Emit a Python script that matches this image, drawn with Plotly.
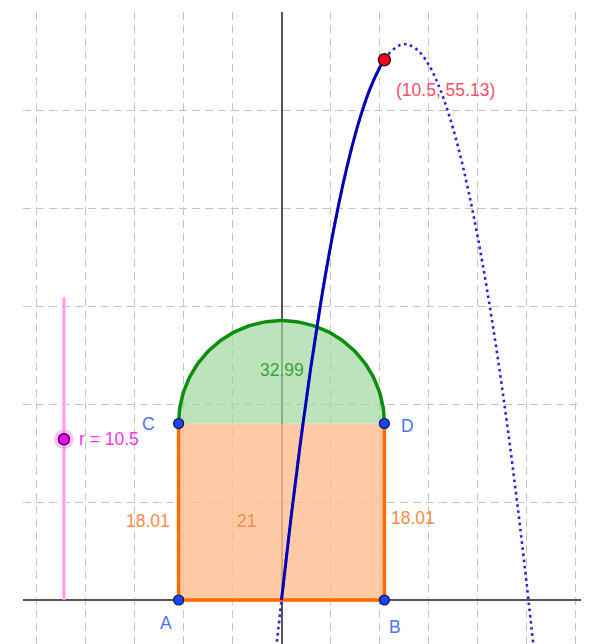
import numpy as np
import plotly.graph_objects as go

# ---- data ----
r_val = 10.5          # slider value (radius)
h_val = 18.01         # rectangle height
arc_len = 32.99       # semicircle arc length label
base_len = 21         # base label
P_label = "(10.5, 55.13)"
P = (10.5, 55.13)

# curve samples (x, y)
curve_x = [-0.6, 0, 1, 2, 3, 4, 5, 6, 7, 8, 9, 10, 10.5, 11, 12, 12.6, 13, 14, 15, 16, 17, 18,
           19, 20, 21, 22, 23, 24, 25, 26]
curve_y = [-5.53, 0, 8.64, 16.57, 23.79, 30.29, 36.07, 41.15, 45.50, 49.15, 52.08, 54.29, 55.13,
           55.79, 56.58, 56.71, 56.65, 56.01, 54.66, 52.59, 49.80, 46.31, 42.09, 37.17, 31.52,
           25.17, 18.11, 10.32, 1.83, -7.39]

# slider
slider_x = -22.2
slider_y0, slider_y1 = 0.0, 30.9
slider_knob_y = 16.4

A = (-r_val, 0.0)
B = (r_val, 0.0)
C = (-r_val, h_val)
D = (r_val, h_val)

fig = go.Figure()

# rectangle (orange fill)
fig.add_trace(go.Scatter(x=[A[0], B[0], D[0], C[0], A[0]], y=[A[1], B[1], D[1], C[1], A[1]],
                         mode="lines", fill="toself", fillcolor="rgba(255,190,145,0.8)",
                         line=dict(width=0), hoverinfo="skip", showlegend=False))
# semicircle (green)
t = np.linspace(0, np.pi, 120)
sx = r_val * np.cos(t)
sy = h_val + r_val * np.sin(t)
fig.add_trace(go.Scatter(x=list(sx) + [sx[0]], y=list(sy) + [sy[0]], mode="lines", fill="toself",
                         fillcolor="rgba(160,215,160,0.7)", line=dict(width=0),
                         hoverinfo="skip", showlegend=False))
fig.add_trace(go.Scatter(x=sx, y=sy, mode="lines", line=dict(color="#0a8f0a", width=3.5),
                         hoverinfo="skip", showlegend=False))
# orange sides
fig.add_trace(go.Scatter(x=[C[0], A[0], B[0], D[0]], y=[C[1], A[1], B[1], D[1]], mode="lines",
                         line=dict(color="#ff6a00", width=3.5), hoverinfo="skip", showlegend=False))

# dotted full curve
fig.add_trace(go.Scatter(x=curve_x, y=curve_y, mode="lines", line_shape="spline",
                         line=dict(color="#2626d9", width=2.6, dash="2.6px,3.6px"),
                         hoverinfo="skip", showlegend=False))
# solid traced part 0..r
sol_x = [x for x in curve_x if 0 <= x <= r_val]
sol_y = [y for x, y in zip(curve_x, curve_y) if 0 <= x <= r_val]
fig.add_trace(go.Scatter(x=sol_x, y=sol_y, mode="lines", line_shape="spline",
                         line=dict(color="#0000b8", width=3), hoverinfo="skip", showlegend=False))

# slider
fig.add_trace(go.Scatter(x=[slider_x, slider_x], y=[slider_y0, slider_y1], mode="lines",
                         line=dict(color="#ff99f5", width=3), hoverinfo="skip", showlegend=False))
fig.add_trace(go.Scatter(x=[slider_x], y=[slider_knob_y], mode="markers",
                         marker=dict(size=20, color="rgba(255,120,255,0.45)", line=dict(width=0)),
                         hoverinfo="skip", showlegend=False))
fig.add_trace(go.Scatter(x=[slider_x], y=[slider_knob_y], mode="markers",
                         marker=dict(size=11, color="#ff00ff", line=dict(color="#3a003a", width=1.5)),
                         hoverinfo="skip", showlegend=False))

# corner points
fig.add_trace(go.Scatter(x=[A[0], B[0], C[0], D[0]], y=[A[1], B[1], C[1], D[1]], mode="markers",
                         marker=dict(size=10, color="#1a44ff", line=dict(color="#101840", width=1.2)),
                         hoverinfo="skip", showlegend=False))
# red point
fig.add_trace(go.Scatter(x=[P[0]], y=[P[1]], mode="markers",
                         marker=dict(size=12, color="#ff0022", line=dict(color="#401010", width=1.5)),
                         hoverinfo="skip", showlegend=False))

font = "Liberation Sans, Arial, sans-serif"
def label(x, y, text, color, xanchor="center", size=17.5):
    fig.add_annotation(x=x, y=y, text=text, showarrow=False, xanchor=xanchor, yanchor="middle",
                       font=dict(family=font, size=size, color=color))

label(11.5, 52.0, P_label, "#ff4d6a", xanchor="left")
label(-20.9, 16.4, f"r = {r_val}", "#ff33ee", xanchor="left")
label(-13.6, 18.0, "C", "#4d73ff")
label(12.9, 17.8, "D", "#4d73ff")
label(-11.8, -2.3, "A", "#4d73ff")
label(11.6, -2.8, "B", "#4d73ff")
label(-13.6, 8.1, f"{h_val}", "#ff8a4a")
label(13.4, 8.4, f"{h_val}", "#ff8a4a")
label(-3.6, 8.1, f"{base_len}", "#ff8a4a")
label(0.0, 23.5, f"{arc_len}", "#35a535")

grid = dict(showgrid=True, gridcolor="#c4c4c4", gridwidth=1, griddash="8px,5px",
            zeroline=True, zerolinecolor="#555555", zerolinewidth=1.6,
            showticklabels=False, ticks="", showline=False)
fig.update_xaxes(range=[-26.38, 31.38], dtick=5, tick0=0, **grid)
fig.update_yaxes(range=[-4.49, 60.0], dtick=10, tick0=0, **grid)

# page body has an 8px margin, so the figure is offset by 8px
fig.update_layout(width=581, height=636, margin=dict(l=15, r=0, t=4, b=0),
                  paper_bgcolor="white", plot_bgcolor="white", showlegend=False)

fig.write_html("out.html")
